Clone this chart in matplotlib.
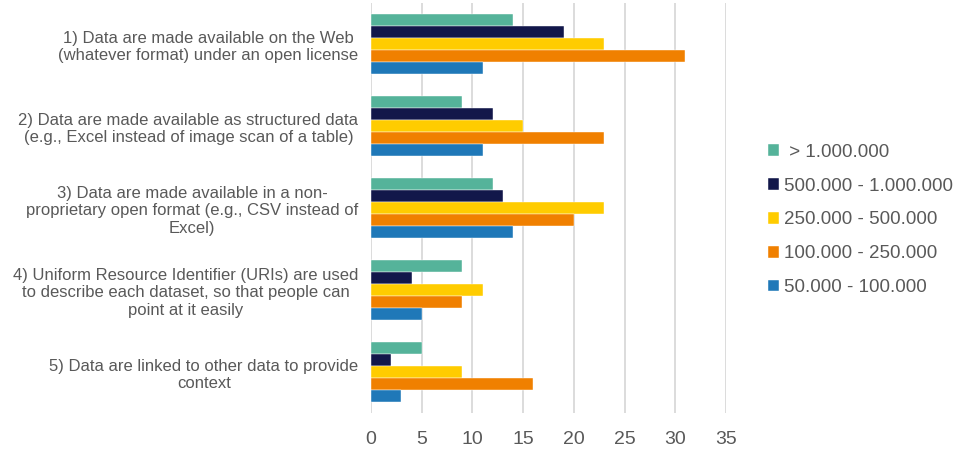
import numpy as np
import matplotlib.pyplot as plt

plt.rcParams["font.family"] = ["Liberation Sans", "DejaVu Sans"]

categories = [
    "1) Data are made available on the Web\n(whatever format) under an open license",
    "2) Data are made available as structured data\n(e.g., Excel instead of image scan of a table)",
    "3) Data are made available in a non-\nproprietary open format (e.g., CSV instead of\nExcel)",
    "4) Uniform Resource Identifier (URIs) are used\nto describe each dataset, so that people can\npoint at it easily",
    "5) Data are linked to other data to provide\ncontext",
]

series_names = [
    " > 1.000.000",
    "500.000 - 1.000.000",
    "250.000 - 500.000",
    "100.000 - 250.000",
    "50.000 - 100.000",
]
over_1m = [14, 9, 12, 9, 5]
from_500k_to_1m = [19, 12, 13, 4, 2]
from_250k_to_500k = [23, 15, 23, 11, 9]
from_100k_to_250k = [31, 23, 20, 9, 16]
from_50k_to_100k = [11, 11, 14, 5, 3]

series_values = [over_1m, from_500k_to_1m, from_250k_to_500k,
                 from_100k_to_250k, from_50k_to_100k]
colors = ["#55B39A", "#12174A", "#FFCC00", "#F08000", "#1F78B8"]

text_color = "#595959"

fig = plt.figure(figsize=(9.57, 4.5), dpi=100)
ax = fig.add_axes([371 / 957, 37 / 450, 355 / 957, 410 / 450])

y = np.arange(len(categories))
bar_h = 0.146
for i, (name, vals, col) in enumerate(zip(series_names, series_values, colors)):
    offset = (i - 2) * bar_h
    ax.barh(y + offset, vals, height=bar_h, color=col, label=name,
            edgecolor="white", linewidth=0.3, zorder=3)

ax.set_xlim(0, 35)
ax.set_ylim(len(categories) - 0.5, -0.5)
ax.set_xticks(range(0, 36, 5))
ax.set_yticks(y)
ax.set_yticklabels(categories, fontsize=12, color=text_color,
                   multialignment="center")
ax.tick_params(axis="x", labelsize=14, colors=text_color, length=0, pad=13)
ax.tick_params(axis="y", length=0, pad=9)
ax.grid(axis="x", color="#D9D9D9", linewidth=1.3, zorder=0)
for spine in ax.spines.values():
    spine.set_visible(False)

handles, labels = ax.get_legend_handles_labels()
leg = fig.legend(handles, labels, loc="center left",
                 bbox_to_anchor=(751 / 957, 1 - 220 / 450),
                 frameon=False, fontsize=13.5, handlelength=0.57,
                 handleheight=0.57, handletextpad=0.28, labelspacing=0.9,
                 labelcolor=text_color)

fig.savefig("out.png", dpi=100)
